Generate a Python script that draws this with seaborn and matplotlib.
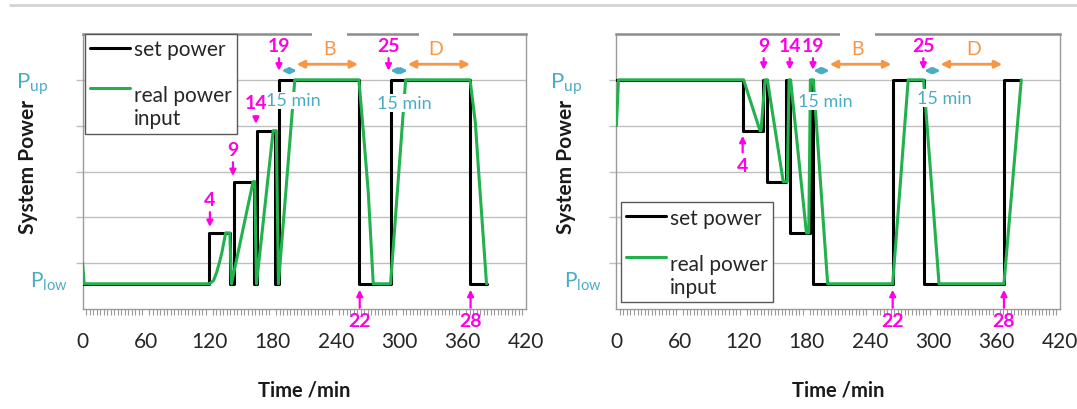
import matplotlib
matplotlib.use("Agg")
import matplotlib.pyplot as plt
import matplotlib.transforms as mtransforms
from matplotlib.lines import Line2D
import pandas as pd
import seaborn as sns

# ------------------------------------------------------------------ data
P_LOW, P_UP = 0.55, 5.0
L1, L2, L3 = 1.66, 2.78, 3.89

# left panel: stepping up
left_set_time = [0, 120, 120, 139.5, 139.5, 143, 143, 162.5, 162.5, 165, 165, 182.5,
                 182.5, 186, 186, 261.7, 261.7, 291.7, 291.7, 367, 367, 383]
left_set_power = [P_LOW, P_LOW, L1, L1, P_LOW, P_LOW, L2, L2, P_LOW, P_LOW, L3, L3,
                  P_LOW, P_LOW, P_UP, P_UP, P_LOW, P_LOW, P_UP, P_UP, P_LOW, P_LOW]
left_real_time = [0, 1.5, 120, 124, 127, 130, 132, 135.5, 139.5, 141, 161.5, 163, 164.7,
                  180.5, 183.5, 185.5, 201, 261.7, 266, 270.6, 275.3, 291.7, 306,
                  367, 372, 375, 382.6]
left_real_power = [1.0, P_LOW, P_LOW, 0.62, 0.80, 1.05, 1.24, L1, L1, P_LOW, L2, L2, P_LOW,
                   L3, L3, P_LOW, P_UP, P_UP, 3.85, 2.55, P_LOW, P_LOW, P_UP,
                   P_UP, 4.07, 3.05, P_LOW]

# right panel: stepping down
right_set_time = [0, 120, 120, 139, 139, 142.4, 142.4, 161, 161, 164.4, 164.4, 183,
                  183, 186.2, 186.2, 261.7, 261.7, 291, 291, 367.1, 367.1, 381]
right_set_power = [P_UP, P_UP, L3, L3, P_UP, P_UP, L2, L2, P_UP, P_UP, L1, L1,
                   P_UP, P_UP, P_LOW, P_LOW, P_UP, P_UP, P_LOW, P_LOW, P_UP, P_UP]
right_real_time = [0, 2, 120.5, 136, 137, 140.8, 143, 158, 161.9, 163.5, 165, 180, 182.2,
                   183.8, 186.5, 200.1, 261.7, 276.4, 291, 305.6, 367.1, 383.5]
right_real_power = [4.0, P_UP, P_UP, L3, L3, P_UP, P_UP, L2, L2, P_UP, P_UP, L1, L1,
                    P_UP, P_UP, P_LOW, P_LOW, P_UP, P_UP, P_LOW, P_LOW, P_UP]

# event markers (step numbers)
left_top_labels = ["4", "9", "14", "19", "25"]
left_top_times = [120.6, 142.4, 164.2, 186.0, 289.8]
left_top_text_y = [2.40, 3.49, 4.50, 5.76, 5.76]
left_top_tip_y = [1.79, 2.90, 4.04, 5.20, 5.20]
left_bottom_labels = ["22", "28"]
left_bottom_times = [262.5, 367.5]

right_top_labels = ["9", "14", "19", "25"]
right_top_times = [139.5, 164.2, 186.2, 290.7]
right_top_text_y = [5.76, 5.76, 5.76, 5.76]
right_top_tip_y = [5.22, 5.22, 5.22, 5.22]
right_up_labels = ["4"]
right_up_times = [119.6]
right_up_text_y = [3.13]
right_up_tip_y = [3.78]
right_bottom_labels = ["22", "28"]
right_bottom_times = [261.7, 367.1]

# phases
phase_labels = ["B", "D"]
left_phase_spans = [(202.7, 261.0), (308.0, 367.0)]
left_phase_text_x = [234.0, 334.7]
left_delay_spans = [(188.5, 203.0), (291.5, 308.0)]
left_delay_text = [(200.0, 4.55), (304.3, 4.50)]
right_phase_spans = [(202.0, 260.5), (307.0, 365.5)]
right_phase_text_x = [228.0, 338.5]
right_delay_spans = [(186.5, 202.0), (291.5, 307.0)]
right_delay_text = [(197.6, 4.53), (311.0, 4.60)]

x_ticks = [0, 60, 120, 180, 240, 300, 360, 420]
series_names = ["set power", "real power\ninput"]

# ------------------------------------------------------------------ style
BLACK = "#000000"
GREEN = "#22B14C"
MAG = "#FF00E6"
ORANGE = "#F79646"
CYAN = "#4BACC6"
GRID = "#BFBFBF"
SPINE = "#9A9A9A"

sns.set_theme(style="white")
plt.rcParams["font.family"] = ["Lato", "DejaVu Sans"]

fig = plt.figure(figsize=(10.77, 4.10), dpi=100)
W, H = 1077.0, 410.0
axL = fig.add_axes([82.6 / W, 100 / H, 443.4 / W, 275 / H])
axR = fig.add_axes([616.4 / W, 100 / H, 443.4 / W, 275 / H])

# thin page rule at the top
fig.add_artist(Line2D([10 / W, 1.0], [1 - 5.5 / H, 1 - 5.5 / H], color="#D3D3D3", lw=2))


def draw_panel(ax, set_t, set_v, real_t, real_v):
    df_set = pd.DataFrame({"time": set_t, "power": set_v})
    df_real = pd.DataFrame({"time": real_t, "power": real_v})
    sns.lineplot(data=df_set, x="time", y="power", sort=False, estimator=None,
                 color=BLACK, lw=2.2, ax=ax, zorder=3)
    sns.lineplot(data=df_real, x="time", y="power", sort=False, estimator=None,
                 color=GREEN, lw=2.2, ax=ax, zorder=4)
    ax.set_xlim(0, 420)
    ax.set_ylim(0, 6)
    ax.set_xticks(x_ticks)
    ax.set_xticklabels([str(v) for v in x_ticks])
    ax.set_xticks([i * 60 / 18 for i in range(0, 127)], minor=True)
    ax.set_yticks([1, 2, 3, 4, 5])
    ax.set_yticklabels([])
    ax.yaxis.grid(True, color=GRID, lw=1)
    ax.xaxis.grid(False)
    ax.tick_params(axis="x", which="major", bottom=True, length=0, pad=16,
                   labelsize=15, labelcolor="#262626")
    ax.tick_params(axis="x", which="minor", bottom=True, length=4, width=0.8,
                   color=SPINE, direction="out")
    ax.tick_params(axis="y", which="major", left=True, length=5, width=1, color=GRID)
    for s in ["left", "right", "bottom"]:
        ax.spines[s].set_color(SPINE)
        ax.spines[s].set_linewidth(1)
    ax.spines["top"].set_color("#8C8C8C")
    ax.spines["top"].set_linewidth(1.8)
    ax.set_xlabel("Time /min", fontsize=14.5, fontweight="bold", color="#1A1A1A")
    ax.xaxis.set_label_coords(0.5, -0.255)
    ax.set_ylabel("System Power", fontsize=15, fontweight="bold", color="#1A1A1A")
    trans = mtransforms.blended_transform_factory(ax.transAxes, ax.transData)
    ax.text(-0.15, P_UP - 0.16, r"P$_\mathregular{up}$", color=CYAN, fontsize=16,
            transform=trans, ha="left", va="baseline")
    ax.text(-0.118, P_LOW - 0.05, r"P$_\mathregular{low}$", color=CYAN, fontsize=15,
            transform=trans, ha="left", va="baseline")


def mark(ax, labels, times, text_y, tip_y):
    for lab, t, ty, tip in zip(labels, times, text_y, tip_y):
        ax.annotate(lab, xy=(t, tip), xytext=(t, ty), ha="center", va="center",
                    color=MAG, fontsize=14, fontweight="bold", annotation_clip=False,
                    arrowprops=dict(arrowstyle="-|>", color=MAG, lw=1.6,
                                    mutation_scale=9, shrinkA=1, shrinkB=0), zorder=6)


def phases(ax, spans, text_x, delays, delay_text, gaps):
    for lab, (a, b), tx in zip(phase_labels, spans, text_x):
        ax.annotate("", xy=(b, 5.34), xytext=(a, 5.34),
                    arrowprops=dict(arrowstyle="<|-|>", color=ORANGE, lw=2,
                                    mutation_scale=11, shrinkA=0, shrinkB=0), zorder=6)
        ax.text(tx, 5.68, lab, color=ORANGE, fontsize=14, ha="center", va="center", zorder=6)
    for (a, b) in delays:
        ax.annotate("", xy=(b, 5.2), xytext=(a, 5.2),
                    arrowprops=dict(arrowstyle="<|-|>", color=CYAN, lw=2,
                                    mutation_scale=8, shrinkA=0, shrinkB=0), zorder=6)
    for (x, y) in delay_text:
        ax.text(x, y, "15 min", color=CYAN, fontsize=13, ha="center", va="center", zorder=6,
                bbox=dict(boxstyle="square,pad=0.05", fc="white", ec="none"))
    trans = mtransforms.blended_transform_factory(ax.transData, ax.transAxes)
    for tx in gaps:
        ax.plot([tx - 16.5, tx + 16.5], [1, 1], color="white", lw=3, transform=trans,
                clip_on=False, zorder=7, solid_capstyle="butt")


draw_panel(axL, left_set_time, left_set_power, left_real_time, left_real_power)
draw_panel(axR, right_set_time, right_set_power, right_real_time, right_real_power)
axL.yaxis.set_label_coords(-0.10, 0.52)
axR.yaxis.set_label_coords(-0.09, 0.52)

mark(axL, left_top_labels, left_top_times, left_top_text_y, left_top_tip_y)
mark(axL, left_bottom_labels, left_bottom_times, [-0.26] * 2, [0.42] * 2)
mark(axR, right_top_labels, right_top_times, right_top_text_y, right_top_tip_y)
mark(axR, right_up_labels, right_up_times, right_up_text_y, right_up_tip_y)
mark(axR, right_bottom_labels, right_bottom_times, [-0.26] * 2, [0.42] * 2)

phases(axL, left_phase_spans, left_phase_text_x, left_delay_spans, left_delay_text,
       left_phase_text_x)
phases(axR, right_phase_spans, right_phase_text_x, right_delay_spans, right_delay_text,
       right_phase_text_x[:1])

handles = [Line2D([], [], color=BLACK, lw=2.2), Line2D([], [], color=GREEN, lw=2.2)]
for ax, loc, anchor in [(axL, "upper left", (0.005, 1.0)), (axR, "lower left", (0.011, 0.025))]:
    leg = ax.legend(handles, series_names, loc=loc, bbox_to_anchor=anchor, borderaxespad=0,
                    fontsize=15, handlelength=1.9, handletextpad=0.2, labelspacing=1.25,
                    borderpad=0.25, fancybox=False, framealpha=1, edgecolor="#595959")
    leg.get_frame().set_linewidth(1)
    leg.set_zorder(8)
    # align the second handle with the first line of its two-line label
    h2 = leg.legend_handles[1]
    h2.set_ydata([y + 14 for y in h2.get_ydata()])

fig.savefig("out.png", dpi=100)
